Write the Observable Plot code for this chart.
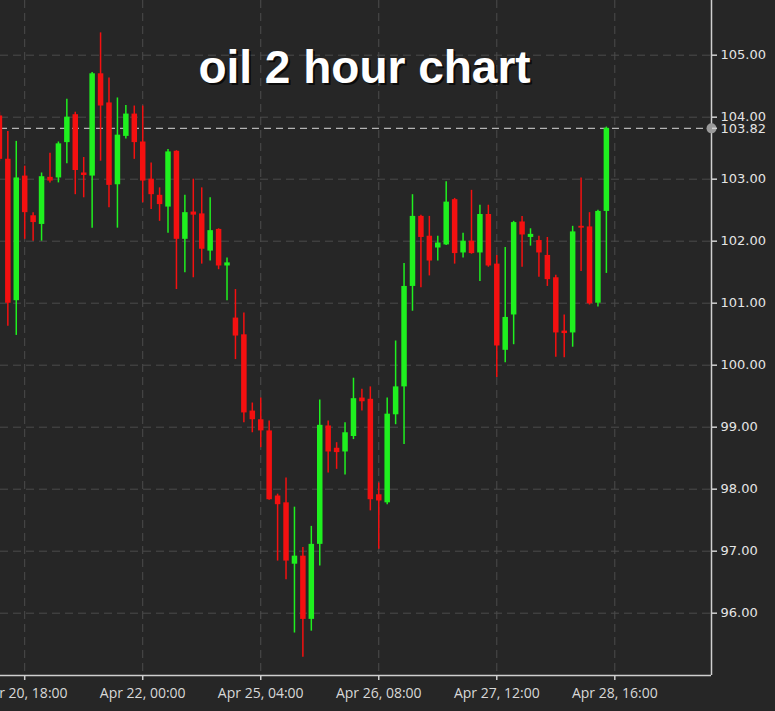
<!DOCTYPE html>
<html>
<head>
<meta charset="utf-8">
<script src="https://cdn.jsdelivr.net/npm/d3@7"></script>
<script src="https://cdn.jsdelivr.net/npm/@observablehq/plot@0.6"></script>
<style>
  html, body { margin: 0; padding: 0; background: #262626; overflow: hidden; }
</style>
</head>
<body>
<div id="chart"></div>
<script>
const title = "oil 2 hour chart";
const opens  = [104.02,103.32,101.04,103.05,102.41,102.27,103.03,103.02,103.59,104.04,103.10,103.05,104.70,104.23,102.91,103.69,104.05,103.60,103.00,102.74,102.55,103.45,102.03,102.47,102.44,101.84,102.19,101.60,100.76,100.49,99.26,99.12,98.94,97.89,97.78,96.79,96.92,95.90,97.11,99.02,98.66,98.60,98.85,99.47,99.45,97.91,97.78,99.20,99.65,101.27,102.40,102.08,101.89,101.94,102.67,101.81,102.00,101.81,102.43,101.63,100.24,100.81,102.31,102.06,102.01,101.77,101.41,100.55,100.52,102.24,102.23,101.00,102.48];
const highs  = [104.08,103.77,103.61,103.21,102.46,103.10,103.42,103.60,104.29,104.08,103.35,104.72,105.36,104.63,104.31,104.19,104.18,104.18,103.26,102.86,103.48,103.46,102.74,103.00,102.86,102.70,102.20,101.73,101.22,100.84,99.39,99.47,99.10,97.92,98.18,97.71,97.06,97.40,99.44,99.10,98.75,99.07,99.79,99.61,99.65,98.10,99.47,100.39,101.64,102.75,102.42,102.40,102.08,102.96,102.69,102.13,102.82,102.58,102.58,101.77,101.90,102.32,102.40,102.20,102.08,102.06,101.45,100.81,102.24,103.02,102.46,102.50,103.84];
const lows   = [103.28,100.63,100.48,102.03,102.00,102.00,102.94,102.94,103.25,102.75,102.70,102.21,103.29,102.54,102.21,103.65,103.32,102.62,102.51,102.32,102.13,101.22,101.49,101.41,101.63,101.68,101.54,101.04,100.09,99.07,98.91,98.67,97.82,96.84,96.54,95.68,95.29,95.71,96.76,98.26,98.32,98.23,98.80,99.26,97.65,97.03,97.75,99.04,98.72,100.87,101.25,101.44,101.68,101.93,101.63,101.73,101.79,101.35,101.58,99.80,100.04,100.33,101.58,101.92,101.42,101.27,100.13,100.12,100.29,101.51,100.97,100.94,101.48];
const closes = [103.32,101.00,103.02,102.46,102.30,103.04,102.97,103.57,104.00,103.14,103.06,104.70,104.18,102.90,103.71,104.05,103.59,102.97,102.75,102.59,103.44,102.03,102.46,102.42,101.87,102.17,101.60,101.65,100.47,99.23,99.12,98.94,97.83,97.75,96.84,96.92,95.90,97.11,99.03,98.60,98.59,98.91,99.46,99.41,97.83,97.81,99.21,99.65,101.27,102.40,102.06,101.68,101.97,102.63,101.80,102.00,101.80,102.43,101.60,100.31,100.77,102.30,102.10,102.11,101.81,101.38,100.52,100.51,102.15,102.21,100.99,102.48,103.82];
const tickIndex  = [3, 17, 31, 45, 59, 73];
const tickLabels = ["Apr 20, 18:00", "Apr 22, 00:00", "Apr 25, 04:00", "Apr 26, 08:00", "Apr 27, 12:00", "Apr 28, 16:00"];
const priceTicks = [96, 97, 98, 99, 100, 101, 102, 103, 104, 105];
const lastPrice  = 103.82;

const candles = opens.map((o, i) => ({i, open: o, high: highs[i], low: lows[i], close: closes[i]}));
const up = d => d.close >= d.open;
const down = d => d.close < d.open;
const GREEN = "#1ff01f";
const RED = "#f41010";
const xDomain = [0.13, 84.47];
const yDomain = [94.995, 105.882];

const chart = Plot.plot({
  width: 775,
  height: 711,
  marginLeft: 0,
  marginRight: 64,
  marginTop: 0,
  marginBottom: 36,
  style: {background: "#262626", color: "#ddd", overflow: "visible"},
  x: {type: "linear", domain: xDomain, axis: null},
  y: {type: "linear", domain: yDomain, axis: null},
  marks: [
    Plot.ruleY(priceTicks, {stroke: "#4c4c4c", strokeDasharray: "8,5", strokeWidth: 1}),
    Plot.ruleX(tickIndex, {stroke: "#4c4c4c", strokeDasharray: "8,5", strokeWidth: 1}),
    Plot.ruleY([lastPrice], {stroke: "#b4b4b4", strokeDasharray: "7,5", strokeWidth: 1.2}),
    Plot.ruleX(candles, {filter: up, x: "i", y1: "low", y2: "high", stroke: GREEN, strokeWidth: 1.5}),
    Plot.ruleX(candles, {filter: down, x: "i", y1: "low", y2: "high", stroke: RED, strokeWidth: 1.5}),
    Plot.ruleX(candles, {filter: up, x: "i", y1: "open", y2: "close", stroke: GREEN, strokeWidth: 5.5}),
    Plot.ruleX(candles, {filter: down, x: "i", y1: "open", y2: "close", stroke: RED, strokeWidth: 5.5}),
    Plot.text([title], {text: d => d, frameAnchor: "top", lineAnchor: "bottom", dx: 10.5, dy: 84.5,
      fill: "#000", fillOpacity: 0.7, fontSize: 46, fontWeight: "bold", fontFamily: "Liberation Sans, Arial, sans-serif"}),
    Plot.text([title], {text: d => d, frameAnchor: "top", lineAnchor: "bottom", dx: 8.5, dy: 82,
      fill: "#ffffff", fontSize: 46, fontWeight: "bold", fontFamily: "Liberation Sans, Arial, sans-serif"}),
    Plot.ruleY([yDomain[0]], {stroke: "#cfcfcf", strokeWidth: 1.5}),
    Plot.ruleX([xDomain[1]], {stroke: "#cfcfcf", strokeWidth: 1.5}),
    Plot.dot([lastPrice], {x: () => xDomain[1], y: d => d, r: 5, fill: "#9a9a9a"}),
    Plot.axisX({ticks: tickIndex, tickFormat: d => tickLabels[tickIndex.indexOf(d)], tickSize: 5, tickPadding: 8,
      fontSize: 14, fontFamily: "Open Sans, sans-serif", fill: "#d8d8d8", stroke: "#cfcfcf", strokeWidth: 1.5, label: null}),
    Plot.axisY({anchor: "right", ticks: [...priceTicks, lastPrice], tickFormat: d => d.toFixed(2), tickSize: 5, tickPadding: 4,
      fontSize: 13, fontFamily: "DejaVu Sans, sans-serif", fill: "#e4e4e4", stroke: "#cfcfcf", strokeWidth: 1.5, label: null})
  ]
});
document.getElementById("chart").appendChild(chart);
</script>
</body>
</html>
